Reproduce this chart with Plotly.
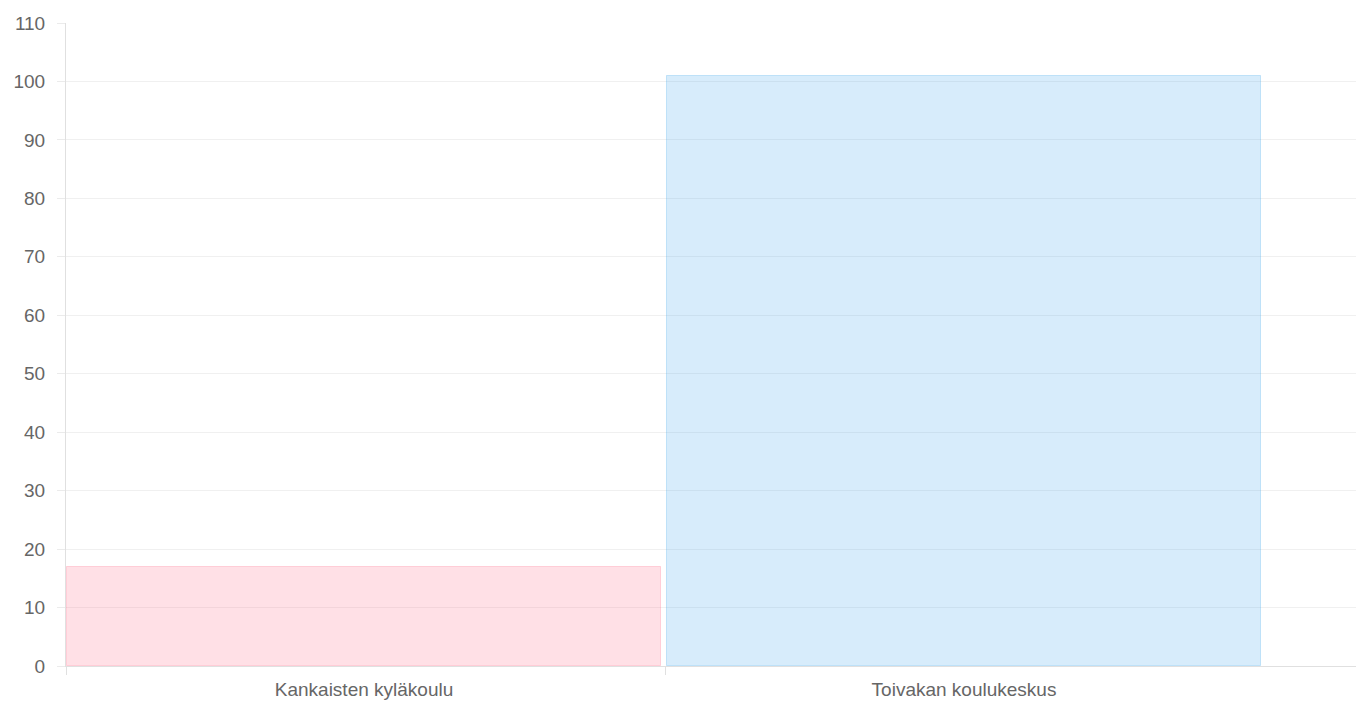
import plotly.graph_objects as go

categories = ["Kankaisten kyläkoulu", "Toivakan koulukeskus"]
values = [17, 101]
fill_colors = ["rgba(255,99,132,0.2)", "rgba(54,162,235,0.2)"]
line_colors = ["rgba(255,99,132,0.25)", "rgba(54,162,235,0.25)"]
y_ticks = list(range(0, 111, 10))

xpos = list(range(len(categories)))

fig = go.Figure()
fig.add_trace(go.Bar(
    x=xpos, y=values, width=0.99,
    marker=dict(color=fill_colors, line=dict(color=line_colors, width=1)),
    hoverinfo="skip",
))

font = dict(family="Liberation Sans, Arial, sans-serif", size=19, color="#666666")
fig.update_layout(
    width=1364, height=694,
    margin=dict(l=58, r=0, t=15, b=36),
    paper_bgcolor="white", plot_bgcolor="white",
    showlegend=False, bargap=0,
    font=font,
    xaxis=dict(
        range=[-0.4967, 1.68],
        tickmode="array", tickvals=xpos, ticktext=categories,
        ticks="", showgrid=False, zeroline=False,
        showline=True, linecolor="#e0e0e0", linewidth=1,
        ticklabelstandoff=6,
        minor=dict(tickvals=[-0.4967, 0.503], ticks="outside", ticklen=8,
                   tickcolor="#e0e0e0", tickwidth=1, showgrid=False),
        fixedrange=True,
    ),
    yaxis=dict(
        range=[0, 110], tickvals=y_ticks,
        ticks="outside", ticklen=8, tickcolor="#ebebeb", tickwidth=1,
        showgrid=True, gridcolor="#f0f0f0", gridwidth=1,
        zeroline=False, showline=True, linecolor="#e0e0e0", linewidth=1,
        ticklabelstandoff=8,
        fixedrange=True,
    ),
)
fig.write_html("out.html")
